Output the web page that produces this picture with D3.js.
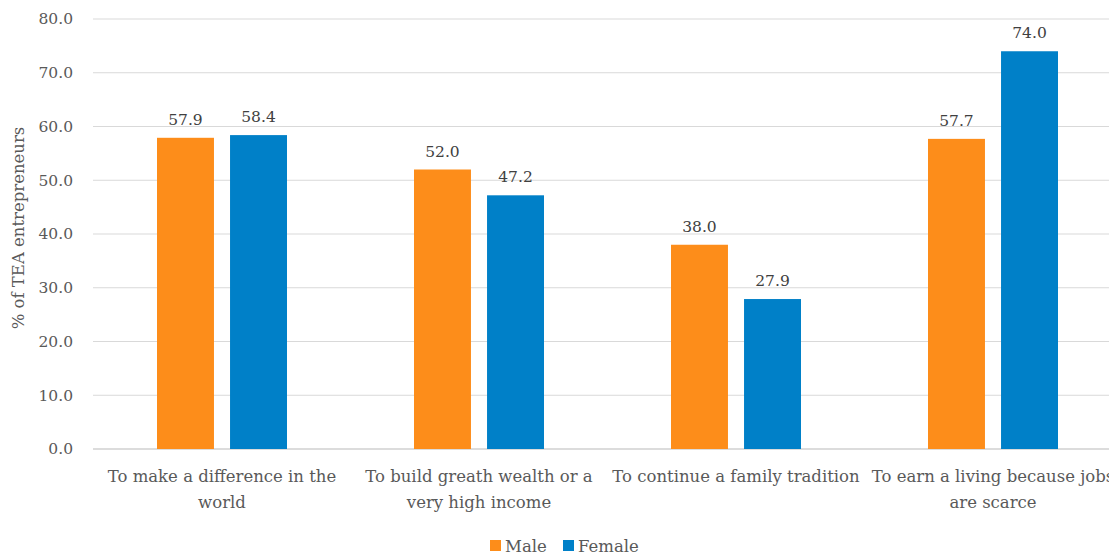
<!DOCTYPE html>
<html><head><meta charset="utf-8">
<script src="https://cdn.jsdelivr.net/npm/d3@7"></script>
<style>body{margin:0;background:#fff;overflow:hidden}svg{display:block}</style>
</head><body>
<script>
const categories = [
  ["To make a difference in the", "world"],
  ["To build greath wealth or a", "very high income"],
  ["To continue a family tradition"],
  ["To earn a living because jobs", "are scarce"]
];
const seriesNames = ["Male", "Female"];
const maleValues = [57.9, 52.0, 38.0, 57.7];
const femaleValues = [58.4, 47.2, 27.9, 74.0];
const yTicks = [0, 10, 20, 30, 40, 50, 60, 70, 80];
const colors = ["#FD8D1A", "#0080C8"];

const W = 1109, H = 559;
const font = "'DejaVu Serif', serif";
const svg = d3.select("body").append("svg").attr("width", W).attr("height", H);

const x0 = d3.scaleBand().domain(d3.range(categories.length)).range([93.5, 1121.5]).paddingInner(0).paddingOuter(0);
const x1 = d3.scaleBand().domain([0, 1]).range([x0.bandwidth()/2 - 65, x0.bandwidth()/2 + 65]).paddingInner(0.22).paddingOuter(0);
const y = d3.scaleLinear().domain([0, 80]).range([449, 19]);

// gridlines
svg.append("g").selectAll("line").data(yTicks).join("line")
  .attr("x1", 93).attr("x2", W).attr("y1", d => y(d)).attr("y2", d => y(d))
  .attr("stroke", d => d === 0 ? "#d0d0d0" : "#d9d9d9").attr("stroke-width", d => d === 0 ? 1.5 : 1.2);

// y tick labels
svg.append("g").selectAll("text").data(yTicks).join("text")
  .attr("x", 73).attr("y", d => y(d)).attr("dy", "0.35em").attr("text-anchor", "end")
  .attr("font-family", font).attr("font-size", 15.5).attr("fill", "#595959")
  .text(d => d.toFixed(1));

// y axis title
svg.append("text").attr("transform", "translate(24,228) rotate(-90)")
  .attr("text-anchor", "middle").attr("font-family", font).attr("font-size", 16.5).attr("fill", "#595959")
  .text("% of TEA entrepreneurs");

const data = categories.map((c, i) => ({i, vals: [maleValues[i], femaleValues[i]]}));
const groups = svg.append("g").selectAll("g").data(data).join("g")
  .attr("transform", d => `translate(${x0(d.i)},0)`);

groups.selectAll("rect").data(d => d.vals.map((v, s) => ({v, s}))).join("rect")
  .attr("x", d => x1(d.s)).attr("width", x1.bandwidth())
  .attr("y", d => y(d.v)).attr("height", d => y(0) - y(d.v))
  .attr("fill", d => colors[d.s]);

groups.selectAll("text.val").data(d => d.vals.map((v, s) => ({v, s}))).join("text")
  .attr("class", "val")
  .attr("x", d => x1(d.s) + x1.bandwidth()/2).attr("y", d => y(d.v) - 13)
  .attr("text-anchor", "middle").attr("font-family", font).attr("font-size", 15.5).attr("fill", "#404040")
  .text(d => d.v.toFixed(1));

// category labels
groups.each(function(d) {
  const t = d3.select(this).append("text").attr("text-anchor", "middle")
    .attr("font-family", font).attr("font-size", 16.5).attr("fill", "#595959");
  categories[d.i].forEach((line, k) => {
    t.append("tspan").attr("x", x0.bandwidth()/2).attr("y", 482 + k * 26).text(line);
  });
});

// legend
const legend = svg.append("g");
const legendX = [490, 563];
seriesNames.forEach((n, s) => {
  legend.append("rect").attr("x", legendX[s]).attr("y", 540).attr("width", 11).attr("height", 11).attr("fill", colors[s]);
  legend.append("text").attr("x", legendX[s] + 15).attr("y", 552)
    .attr("font-family", font).attr("font-size", 16.5).attr("fill", "#595959").text(n);
});
</script>
</body></html>
